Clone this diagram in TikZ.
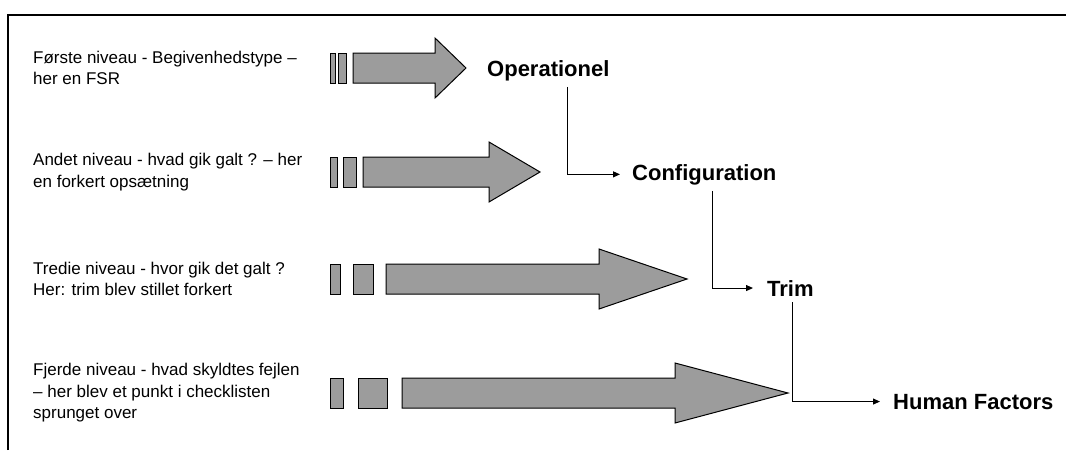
\documentclass[tikz,border=0pt]{standalone}
\usepackage{fontspec}
\setmainfont{Liberation Sans}
\usepackage{tikz}
\usetikzlibrary{arrows.meta,positioning,calc}
\definecolor{stripe}{HTML}{9C9C9C}
\tikzset{
  frame/.style={draw=black, line width=1.2pt},
  barfill/.style={draw=black, line width=1pt, fill=stripe},
  desc/.style={anchor=west, align=left, inner sep=0pt, font=\fontsize{17}{21.5}\selectfont},
  level/.style={anchor=base west, inner sep=3pt, font=\fontsize{22}{26}\selectfont\bfseries},
  link/.style={draw=black, line width=1pt, shorten <=3pt, -{Triangle[length=7pt,width=6pt]}}
}

\begin{document}
\begin{tikzpicture}[x=1pt,y=-1pt]
  \useasboundingbox (0,0) rectangle (1066,450);
  % open frame, only top and left edges
  \draw[frame] (8,450) -- (8,15) -- (1066,15);

  % striped arrows: centre y, bar 1, bar 2, shaft start, head base, tip
  \foreach \cy/\ba/\bb/\bc/\bd/\s/\h/\t in {
      68/330/335/338/346/353/435/466,
      172/330/337/343/356/363/489/540,
      279/330/340/353/373/386/599/687,
      393/330/343/358/387/402/675/788}{
    \draw[barfill] (\ba,\cy-15) rectangle (\bb,\cy+15);
    \draw[barfill] (\bc,\cy-15) rectangle (\bd,\cy+15);
    \draw[barfill] (\s,\cy-15) -- (\h,\cy-15) -- (\h,\cy-30) -- (\t,\cy)
      -- (\h,\cy+30) -- (\h,\cy+15) -- (\s,\cy+15) -- cycle;
  }

  % level descriptions
  \node[desc] (lvlone) at (33,68) {Første niveau - Begivenhedstype –\\her en FSR};
  \node[desc] (lvltwo) at (33,172) {Andet niveau - hvad gik galt ? – her\\en forkert opsætning};
  \node[desc] (lvlthree) at (33,279) {Tredie niveau - hvor gik det galt ?\\Her: trim blev stillet forkert};
  \node[desc] (lvlfour) at (33,393) {Fjerde niveau - hvad skyldtes fejlen\\– her blev et punkt i checklisten\\sprunget over};

  % categories
  \node[level] (oper) at (484,76) {Operationel};
  \node[level] (config) at (629,180) {Configuration};
  \node[level] (trim) at (764,296) {Trim};
  \node[level] (human) at (890,409) {Human Factors};

  \draw[link] ([xshift=19pt]oper.south) |- ([xshift=-9pt]config.west);
  \draw[link] ([xshift=8pt]config.south) |- ([xshift=-11pt]trim.west);
  \draw[link] ([xshift=2pt]trim.south) |- ([xshift=-10pt]human.west);
\end{tikzpicture}
\end{document}
